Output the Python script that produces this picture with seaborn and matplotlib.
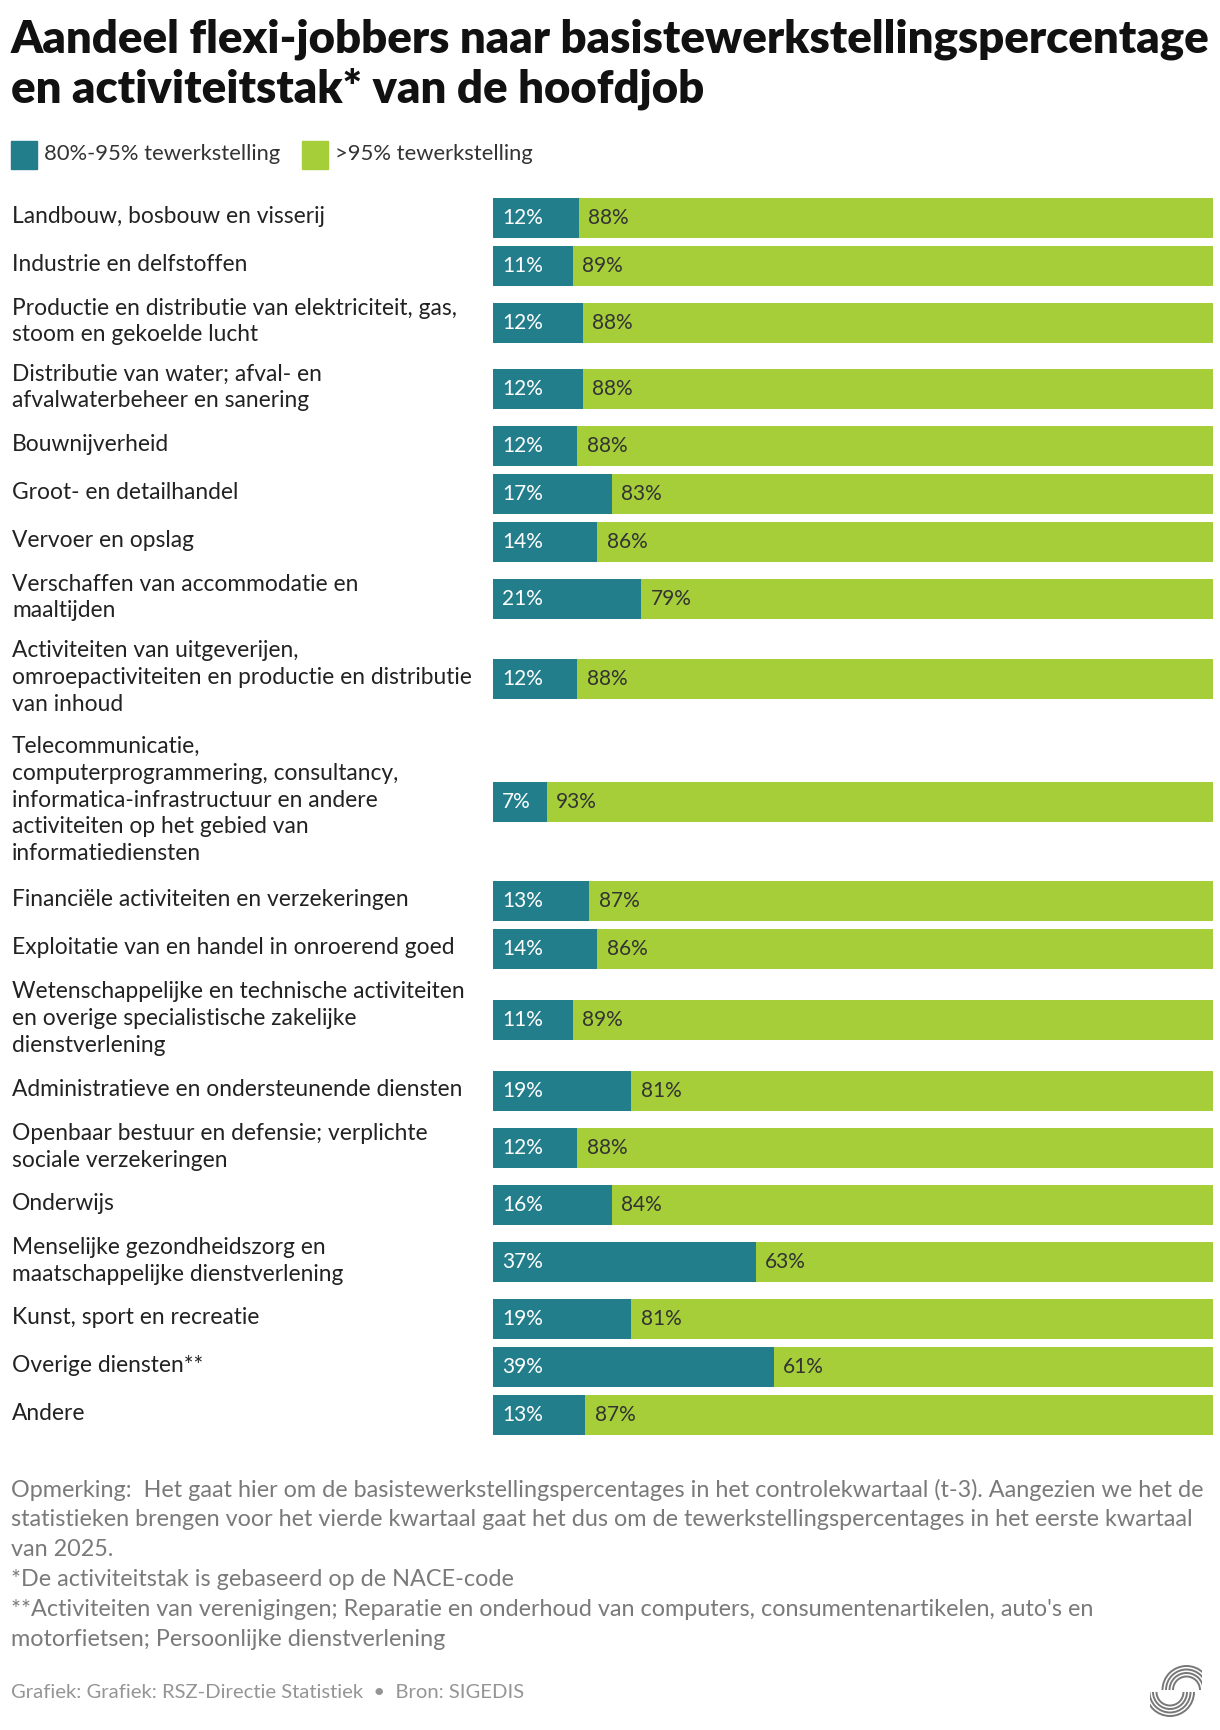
import numpy as np
import pandas as pd
import seaborn as sns
import matplotlib.pyplot as plt
from matplotlib.patches import Rectangle, Arc

# Gegevens
sectoren = [
    "Landbouw, bosbouw en visserij",
    "Industrie en delfstoffen",
    "Productie en distributie van elektriciteit, gas,\nstoom en gekoelde lucht",
    "Distributie van water; afval- en\nafvalwaterbeheer en sanering",
    "Bouwnijverheid",
    "Groot- en detailhandel",
    "Vervoer en opslag",
    "Verschaffen van accommodatie en\nmaaltijden",
    "Activiteiten van uitgeverijen,\nomroepactiviteiten en productie en distributie\nvan inhoud",
    "Telecommunicatie,\ncomputerprogrammering, consultancy,\ninformatica-infrastructuur en andere\nactiviteiten op het gebied van\ninformatiediensten",
    "Financiële activiteiten en verzekeringen",
    "Exploitatie van en handel in onroerend goed",
    "Wetenschappelijke en technische activiteiten\nen overige specialistische zakelijke\ndienstverlening",
    "Administratieve en ondersteunende diensten",
    "Openbaar bestuur en defensie; verplichte\nsociale verzekeringen",
    "Onderwijs",
    "Menselijke gezondheidszorg en\nmaatschappelijke dienstverlening",
    "Kunst, sport en recreatie",
    "Overige diensten**",
    "Andere",
]
aandeel_80_95 = [11.9, 11.1, 12.5, 12.5, 11.7, 16.5, 14.5, 20.6, 11.7, 7.5,
                 13.4, 14.5, 11.1, 19.2, 11.7, 16.5, 36.5, 19.2, 39.0, 12.8]
aandeel_95 = [88.1, 88.9, 87.5, 87.5, 88.3, 83.5, 85.5, 79.4, 88.3, 92.5,
              86.6, 85.5, 88.9, 80.8, 88.3, 83.5, 63.5, 80.8, 61.0, 87.2]
label_80_95 = ["12%", "11%", "12%", "12%", "12%", "17%", "14%", "21%", "12%", "7%",
               "13%", "14%", "11%", "19%", "12%", "16%", "37%", "19%", "39%", "13%"]
label_95 = ["88%", "89%", "88%", "88%", "88%", "83%", "86%", "79%", "88%", "93%",
            "87%", "86%", "89%", "81%", "88%", "84%", "63%", "81%", "61%", "87%"]
legende = ["80%-95% tewerkstelling", ">95% tewerkstelling"]

titel = ["Aandeel flexi-jobbers naar basistewerkstellingspercentage",
         "en activiteitstak* van de hoofdjob"]
voetnoot = [
    "Opmerking:  Het gaat hier om de basistewerkstellingspercentages in het controlekwartaal (t-3). Aangezien we het de",
    "statistieken brengen voor het vierde kwartaal gaat het dus om de tewerkstellingspercentages in het eerste kwartaal",
    "van 2025.",
    "*De activiteitstak is gebaseerd op de NACE-code",
    "**Activiteiten van verenigingen; Reparatie en onderhoud van computers, consumentenartikelen, auto's en",
    "motorfietsen; Persoonlijke dienstverlening",
]
bron = "Grafiek: Grafiek: RSZ-Directie Statistiek  \u2022  Bron: SIGEDIS"

TEAL = "#237E8B"
GROEN = "#A6CE39"

sns.set_theme(style="white")
plt.rcParams['font.family'] = ['Lato', 'DejaVu Sans']

W, H = 1220, 1730
fig = plt.figure(figsize=(W / 100, H / 100), dpi=100)
fig.patch.set_facecolor("white")


def fx(x):
    return x / W


def fy(y):
    return 1 - y / H


# rijhoogte hangt af van het aantal regels in het label
regels = [s.count("\n") + 1 for s in sectoren]
rij_h = np.array([max(48, 28.25 * n + 9.5) for n in regels])
midden = np.cumsum(rij_h) - rij_h / 2
totaal = rij_h.sum()
top = 194

ax = fig.add_axes([fx(493), fy(top + totaal), (1213 - 493) / W, totaal / H])

df = pd.DataFrame({"pos": midden, "a": aandeel_80_95, "b": aandeel_95})
df["eind"] = df["a"] + df["b"]

sns.barplot(data=df, x="eind", y="pos", orient="y", native_scale=True,
            color=GROEN, saturation=1, width=40 / 48, errorbar=None,
            linewidth=0, ax=ax)
sns.barplot(data=df, x="a", y="pos", orient="y", native_scale=True,
            color=TEAL, saturation=1, width=40 / 48, errorbar=None,
            linewidth=0, ax=ax)
ax.set_xlim(0, 100)
ax.set_ylim(totaal, 0)
ax.axis("off")

for i, row in df.iterrows():
    ax.text(1.3, row["pos"], label_80_95[i], color="white", fontsize=15,
            va="center", ha="left")
    ax.text(row["a"] + 1.3, row["pos"], label_95[i], color="#333333",
            fontsize=15, va="center", ha="left")

# categorie labels
for s, c in zip(sectoren, midden):
    fig.text(fx(12), fy(top + c - 1.5), s, fontsize=16.4, color="#222222",
             ha="left", va="center", linespacing=1.34)

# titel
fig.text(fx(11), fy(52), titel[0], fontsize=32.8, fontweight="heavy",
         color="#111111", ha="left", va="baseline")
fig.text(fx(11), fy(103), titel[1], fontsize=32.8, fontweight="heavy",
         color="#111111", ha="left", va="baseline")

# legende
for x0, kleur, tekst in [(11, TEAL, legende[0]), (302, GROEN, legende[1])]:
    fig.patches.append(Rectangle((fx(x0), fy(169)), 26 / W, 28 / H,
                                 transform=fig.transFigure, color=kleur))
    fig.text(fx(x0 + 33), fy(154), tekst, fontsize=15.8, color="#333333",
             ha="left", va="center")

# voetnoot
for i, regel in enumerate(voetnoot):
    fig.text(fx(11), fy(1490 + 30 * i), regel, fontsize=16.8,
             color="#7a7a7a", ha="left", va="center")
fig.text(fx(11), fy(1692), bron, fontsize=14.6,
         color="#959595", ha="left", va="center")

# logo
lax = fig.add_axes([fx(1150), fy(1725), 52 / W, 60 / H])
lax.set_xlim(1150, 1202)
lax.set_ylim(1725, 1665)
lax.set_aspect("equal")
lax.axis("off")
for r in [24, 20.5, 17, 13.5]:
    lax.add_patch(Arc((1186.5, 1690), 2 * r, 2 * r, theta1=180, theta2=360,
                      color="#777777", lw=1.4))
    lax.add_patch(Arc((1170, 1692), 2 * r, 2 * r, theta1=0, theta2=180,
                      color="#777777", lw=1.4))

fig.savefig("out.png", dpi=100, facecolor="white")
